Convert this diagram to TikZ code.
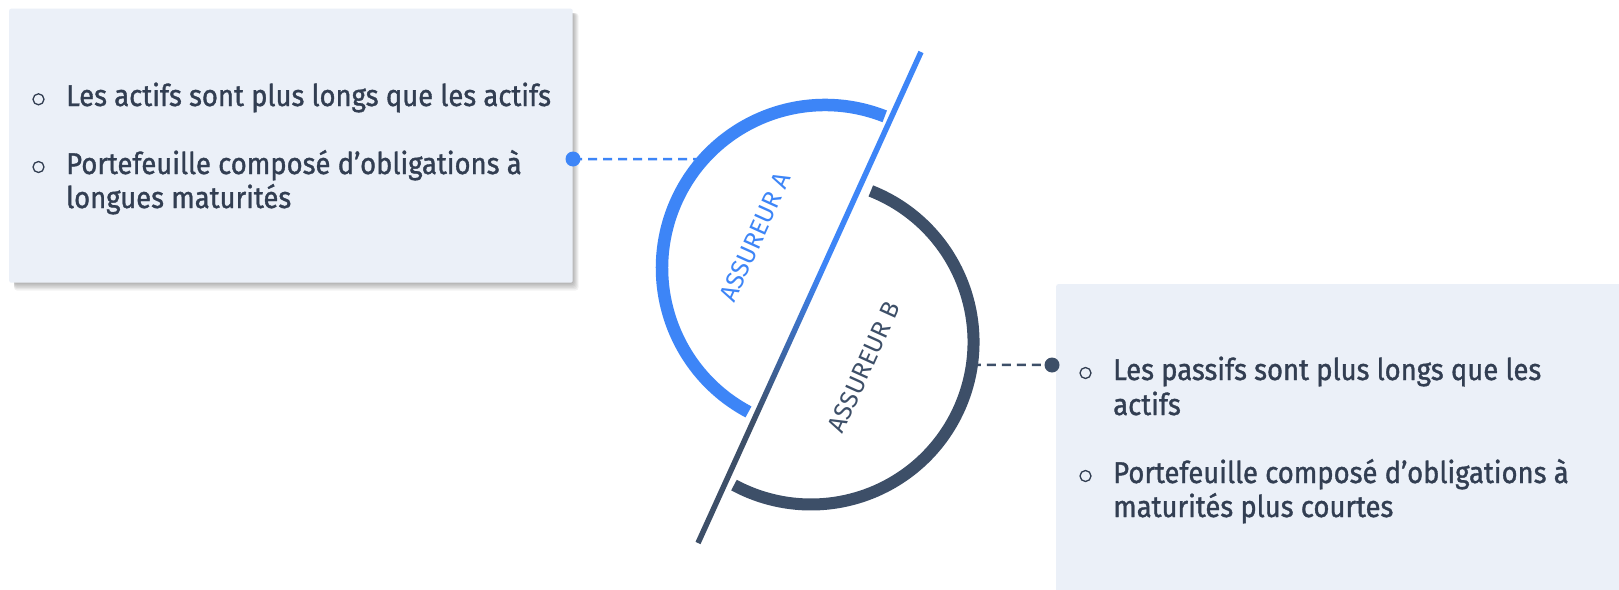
\documentclass[tikz,border=0pt]{standalone}
\usepackage{fontspec}
\setmainfont{Fira Sans}[FakeStretch=0.915, FakeBold=1.2]
\newfontfamily\lblfont{Fira Sans}
\usetikzlibrary{calc}
\definecolor{bl}{RGB}{61,133,247}
\definecolor{dk}{RGB}{61,79,104}
\definecolor{tx}{RGB}{50,62,82}
\definecolor{bx}{RGB}{235,240,248}
\pgfdeclareverticalshading{splitshade}{100bp}{color(0bp)=(dk); color(37.5bp)=(dk); color(53bp)=(bl); color(100bp)=(bl)}
\begin{document}
\begin{tikzpicture}[x=1pt,y=1pt]
\tikzset{
  box/.style={fill=bx, draw=none, rounded corners=2pt, inner sep=0pt, anchor=north west},
  bodytext/.style={anchor=base west, inner sep=0pt, text=tx, font=\fontsize{30}{34}\selectfont},
  bulletmark/.style={circle, draw=tx, line width=1.3pt, minimum size=11pt, inner sep=0pt},
  dotmark/.style={circle, minimum size=15pt, inner sep=0pt},
  conn/.style={line width=2.5pt, dash pattern=on 9pt off 6pt},
  arcstroke/.style={line width=12.5pt},
  sidelabel/.style={font=\lblfont\fontsize{25}{25}\selectfont, rotate=65.6, inner sep=0pt}
}
\fill[white] (0,0) rectangle (1619,-589);
\useasboundingbox (0,0) rectangle (1619,-589);

% shadow of the left box
\foreach \k in {0,...,5}
  \fill[black, opacity=0.05, rounded corners=3pt] (14,-13) rectangle (573.5+\k, -284-1.3*\k);

\node[box, minimum width=563.5pt, minimum height=274pt] (boxA) at (9,-8.5) {};
\node[box, minimum width=570pt, minimum height=310pt] (boxB) at (1056,-284) {};

% circle geometry
\coordinate (cA) at (825,-268);
\coordinate (cB) at (811,-342);
\coordinate (pA) at ($(cA)+(138.03:163)$);
\coordinate (pB) at ($(cB)+(-8.1:162.5)$);

% connectors
\node[dotmark, fill=bl] (dotA) at (573,-159) {};
\node[dotmark, fill=dk] (dotB) at (1052,-365) {};
\draw[conn, bl] (dotA.center) -- (pA);
\draw[conn, dk] (pB) -- (dotB.center);

% arcs
\draw[bl, arcstroke] ($(cA)+(68.5:163)$) arc[start angle=68.5, end angle=242, radius=163];
\draw[dk, line width=12pt] ($(cB)+(68.4:162.5)$) arc[start angle=68.4, end angle=-118.3, radius=162.5];

% dividing line
\coordinate (Ltop) at (921,-52);
\coordinate (Lbot) at (698,-543);
\shade[shading=splitshade] ($(Ltop)!2.75pt!90:(Lbot)$) -- ($(Lbot)!2.75pt!-90:(Ltop)$) -- ($(Lbot)!2.75pt!90:(Ltop)$) -- ($(Ltop)!2.75pt!-90:(Lbot)$) -- cycle;

% labels
\node[sidelabel, text=bl] (labA) at (755,-237) {ASSUREUR A};
\node[sidelabel, text=dk] (labB) at (864,-367) {ASSUREUR B};

% left box text
\node[bulletmark] (bA1) at (38.5,-99.3) {};
\node[bodytext] (tA1) at (66,-106) {Les actifs sont plus longs que les actifs};
\node[bulletmark] (bA2) at (38.5,-167) {};
\node[bodytext] (tA2) at (66,-174) {Portefeuille composé d’obligations à};
\node[bodytext] (tA3) at (66,-208) {longues maturités};

% right box text
\node[bulletmark] (bB1) at (1085.5,-373) {};
\node[bodytext] (tB1) at (1113,-380) {Les passifs sont plus longs que les};
\node[bodytext] (tB2) at (1113,-415) {actifs};
\node[bulletmark] (bB2) at (1085.5,-476) {};
\node[bodytext] (tB3) at (1113,-483) {Portefeuille composé d’obligations à};
\node[bodytext] (tB4) at (1113,-517) {maturités plus courtes};
\end{tikzpicture}
\end{document}
